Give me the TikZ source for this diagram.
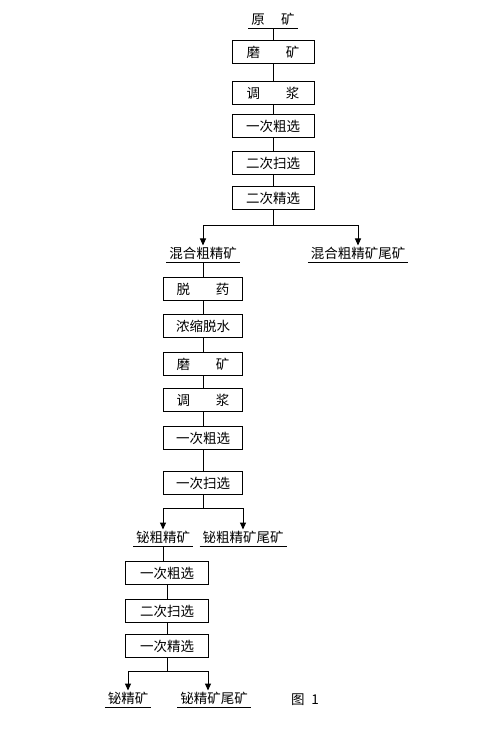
\documentclass[tikz,border=0pt]{standalone}
\usepackage{fontspec}
\usepackage{tikz}
\usetikzlibrary{arrows.meta, positioning}
\newfontfamily\cnfont{Noto Sans CJK SC}
\newcommand{\cnsize}{\cnfont\fontsize{13.5}{15}\selectfont}

\begin{document}
\begin{tikzpicture}[
        x=1pt, y=-1pt,
        stepbox/.style={rectangle, draw, minimum height=23pt, inner sep=0pt, align=center, font=\cnsize},
        prodlab/.style={anchor=south, inner xsep=2.5pt, inner ysep=1.5pt, font=\cnsize},
        arrow/.style={-{Triangle[length=7pt, width=6pt]}},
        every path/.style={line width=1pt}
    ]
        \useasboundingbox (0,0) rectangle (500,737);

        % Mixed flotation
        \node[prodlab] (raw) at (273,28) {原\hspace{1.2em}矿};
        \node[stepbox, minimum width=82pt, below=12pt of raw] (grind1) {磨\hspace{1.9em}矿};
        \node[stepbox, minimum width=82pt, below=17pt of grind1] (slurry1) {调\hspace{1.9em}浆};
        \node[stepbox, minimum width=82pt, below=9pt of slurry1] (rough1) {一次粗选};
        \node[stepbox, minimum width=82pt, below=13pt of rough1] (scav1) {二次扫选};
        \node[stepbox, minimum width=82pt, below=11pt of scav1] (clean1) {二次精选};
        \draw (raw) -- (grind1);
        \draw (grind1) -- (slurry1);
        \draw (slurry1) -- (rough1);
        \draw (rough1) -- (scav1);
        \draw (scav1) -- (clean1);
        \coordinate (split1) at (273,225);
        \node[prodlab] (mix) at (203,262) {混合粗精矿};
        \node[prodlab] (mixtail) at (358,262) {混合粗精矿尾矿};
        \draw (clean1) -- (split1);
        \draw[arrow] (split1) -| (mix.north);
        \draw[arrow] (split1) -| (mixtail.north);

        % Bismuth rough flotation
        \node[stepbox, minimum width=79pt, below=15pt of mix] (reagent) {脱\hspace{1.9em}药};
        \node[stepbox, minimum width=79pt, below=13pt of reagent] (thicken) {浓缩脱水};
        \node[stepbox, minimum width=79pt, below=14pt of thicken] (grind2) {磨\hspace{1.9em}矿};
        \node[stepbox, minimum width=79pt, below=12pt of grind2] (slurry2) {调\hspace{1.9em}浆};
        \node[stepbox, minimum width=79pt, below=14pt of slurry2] (rough2) {一次粗选};
        \node[stepbox, minimum width=79pt, below=21pt of rough2] (scav2) {一次扫选};
        \draw (mix) -- (reagent);
        \draw (reagent) -- (thicken);
        \draw (thicken) -- (grind2);
        \draw (grind2) -- (slurry2);
        \draw (slurry2) -- (rough2);
        \draw (rough2) -- (scav2);
        \coordinate (split2) at (203,508);
        \node[prodlab] (bi) at (163,546) {铋粗精矿};
        \node[prodlab] (bitail) at (243,546) {铋粗精矿尾矿};
        \draw (scav2) -- (split2);
        \draw[arrow] (split2) -| (bi.north);
        \draw[arrow] (split2) -| (bitail.north);

        % Bismuth cleaning
        \node[stepbox, minimum width=83pt, below=15pt of bi, xshift=4pt] (rough3) {一次粗选};
        \node[stepbox, minimum width=83pt, below=14pt of rough3] (scav3) {二次扫选};
        \node[stepbox, minimum width=83pt, below=11pt of scav3] (clean3) {一次精选};
        \draw (bi.south) -- (bi.south |- rough3.north);
        \draw (rough3) -- (scav3);
        \draw (scav3) -- (clean3);
        \coordinate (split3) at (167,671);
        \node[prodlab] (final) at (128,707) {铋精矿};
        \node[prodlab] (finaltail) at (214,707) {铋精矿尾矿};
        \draw (clean3) -- (split3);
        \draw[arrow] (split3) -| (final.north);
        \draw[arrow] (split3) -| ([xshift=-6pt]finaltail.north);

        \node[font=\cnsize] (figno) at (305,700) {图\hspace{0.5em}1};

        % underlines of the products
        \foreach \n in {raw, mix, mixtail, bi, bitail, final, finaltail}
            \draw (\n.south west) -- (\n.south east);
    \end{tikzpicture}
\end{document}
